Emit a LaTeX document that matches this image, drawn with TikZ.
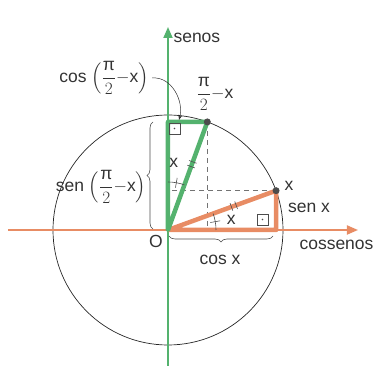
\documentclass[tikz,border=0pt]{standalone}
\usepackage{amsmath}
\usepackage{fontspec}
\setmainfont{Liberation Sans}
\usepackage{tikz}
\usetikzlibrary{arrows.meta,decorations.pathreplacing,calc}

\definecolor{seno}{RGB}{84,178,110}
\definecolor{cosseno}{RGB}{232,140,100}
\newcommand{\arcopi}{\left(\dfrac{\text{π}}{2}{-}\mathrm{x}\right)}

\begin{document}
\begin{tikzpicture}[x=1pt,y=1pt,
				      every node/.style = {font=\fontsize{17.5}{19}\selectfont, text=black!80},
				      axisline/.style={line width=1.8pt, -{Triangle[length=11pt,width=9pt]}},
				      thickside/.style={line width=4.5pt, line cap=round, line join=round},
				      dashline/.style={black!55, dash pattern=on 5pt off 4pt, line width=0.7pt},
				      bracedraw/.style={decorate, decoration={brace, amplitude=6pt}, black!70, line width=0.6pt},
				      markline/.style={black!70, line width=0.6pt},
				      point/.style={circle, fill=black!70, inner sep=0pt, minimum size=7pt}
			      ]
			      \useasboundingbox (-168,-136) rectangle (210,230);

			      % ciclo e pontos
			      \coordinate (O) at (0,0);
			      \coordinate (P) at (20:115);
			      \coordinate (Q) at (70:115);
			      \coordinate (Px) at (P |- O);
			      \coordinate (Py) at (O |- P);
			      \coordinate (Qx) at (Q |- O);
			      \coordinate (Qy) at (O |- Q);
			      \draw[black!85, line width=0.7pt] (O) circle (115);

			      % eixos
			      \coordinate (cosA) at (-160,0);
			      \coordinate (cosB) at (190,0);
			      \coordinate (senA) at (0,-140);
			      \coordinate (senB) at (0,203);
			      \draw[dashline] (Q) -- (Qx);
			      \draw[dashline] (P) -- (Py);
			      \draw[axisline, cosseno] (cosA) -- (cosB);
			      \draw[axisline, seno] (senA) -- (senB);

			      % triangulos
			      \draw[thickside, cosseno] (O) -- (P) -- (Px) -- cycle;
			      \draw[thickside, seno] (O) -- (Q) -- (Qy) -- cycle;

			      % angulos retos
			      \draw[markline] (89,5) rectangle (100,16);
			      \fill[black!70] (94.5,10.5) circle (0.9);
			      \draw[markline] (1,96) rectangle (12,107);
			      \fill[black!70] (6.5,101.5) circle (0.9);

			      % angulos x
			      \draw[markline] (0:48) arc (0:20:48);
			      \draw[markline] (10:43) -- (10:53);
			      \draw[markline] (70:48) arc (70:90:48);
			      \draw[markline] (80:43) -- (80:53);
			      \foreach \d in {-2.5,2.5} {
					      \draw[markline] ($(20:70)+(110:4)+(20:\d)$) -- ($(20:70)+(-70:4)+(20:\d)$);
					      \draw[markline] ($(70:70)+(160:4)+(70:\d)$) -- ($(70:70)+(-20:4)+(70:\d)$);
				      }

			      \node[point] (pP) at (P) {};
			      \node[point] (pQ) at (Q) {};

			      % chaves
			      \draw[bracedraw] (-15,1) -- (-15,108);
			      \draw[bracedraw] (105,-6) -- (1,-6);

			      % textos
			      \node[anchor=west] (senos) at (2,192) {senos};
			      \node[anchor=west] (cossenos) at (128,-15) {cossenos};
			      \node (origem) at (-12,-11) {O};
			      \node (xP) at (121,44) {x};
			      \node (senx) at (141,22) {sen x};
			      \node (cosx) at (52,-30) {cos x};
			      \node (xO) at (9:64) {x};
			      \node (xQ) at (85:67) {x};
			      \node (arcQ) at (47,136) {$\dfrac{\text{π}}{2}{-}\mathrm{x}$};
			      \node (senQ) at (-67,43) {sen $\arcopi$};
			      \node (cosQ) at (-64,152) {cos $\arcopi$};
			      \draw[black!80, line width=0.5pt, -{Stealth[length=5pt]}] (cosQ.east) to[out=5, in=75] (11,110);
		      \end{tikzpicture}
\end{document}
